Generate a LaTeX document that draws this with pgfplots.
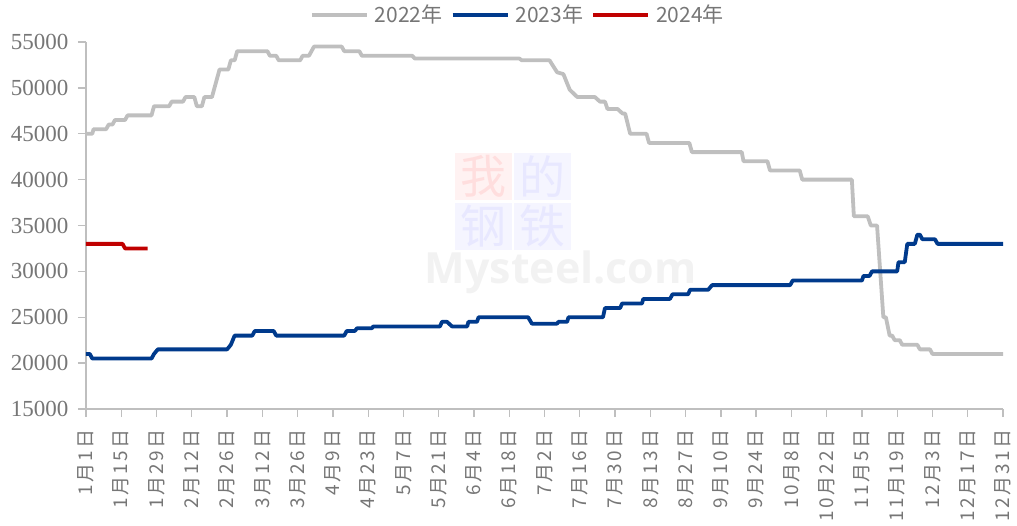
\documentclass[border=0pt]{standalone}
\usepackage{fontspec}
\usepackage{pgfplots}
\pgfplotsset{compat=1.18}
\setmainfont{Liberation Serif}
\newfontfamily\cjk{Noto Sans CJK SC}
\newfontfamily\cjkx[LetterSpace=12]{Noto Sans CJK SC}
\newfontfamily\wmfont{Open Sans}
\definecolor{g22}{RGB}{191,191,191}
\definecolor{b23}{RGB}{0,58,140}
\definecolor{r24}{RGB}{192,0,0}
\definecolor{axgray}{RGB}{191,191,191}
\definecolor{txtgray}{RGB}{118,118,118}
\begin{document}
\begin{tikzpicture}
\begin{axis}[
  scale only axis, width=917pt, height=367pt,
  xmin=0, xmax=364, ymin=15000, ymax=55000,
  ytick={15000,20000,...,55000},
  xtick={0,14,...,364},
  xticklabels={1月1日,1月15日,1月29日,2月12日,2月26日,3月12日,3月26日,4月9日,4月23日,5月7日,5月21日,6月4日,6月18日,7月2日,7月16日,7月30日,8月13日,8月27日,9月10日,9月24日,10月8日,10月22日,11月5日,11月19日,12月3日,12月17日,12月31日},
  axis x line*=bottom, axis y line*=left,
  axis line style={axgray, line width=1.3pt},
  tick style={axgray, line width=1.3pt},
  major tick length=8pt, tick align=outside,
  scaled y ticks=false,
  yticklabel style={/pgf/number format/assume math mode=true, /pgf/number format/1000 sep={}, font=\rmfamily\fontsize{23}{23}\selectfont, text=txtgray},
  xticklabel style={rotate=90, anchor=east, font=\cjkx\fontsize{19}{19}\selectfont, text=txtgray},
  yticklabel shift=6pt, xticklabel shift=9pt,
  legend style={draw=none, fill=none, at={(0.471,1.074)}, anchor=center, legend columns=3, font=\cjk\fontsize{21}{21}\selectfont, text=txtgray, /tikz/every odd column/.append style={column sep=4pt}, /tikz/every even column/.append style={column sep=6pt}},
  legend image code/.code={\draw[#1, line width=4pt] (0pt,0pt) -- (55pt,0pt);},
  clip=false,
]
% watermark
\node[fill=red!5, minimum width=57pt, minimum height=47pt, inner sep=0pt, text=red!13, font=\cjk\fontsize{46}{46}\selectfont] at (rel axis cs:0.4335,0.6335) {我};
\node[fill=blue!4, minimum width=57pt, minimum height=47pt, inner sep=0pt, text=blue!9, font=\cjk\fontsize{46}{46}\selectfont] at (rel axis cs:0.4983,0.6335) {的};
\node[fill=blue!4, minimum width=57pt, minimum height=47pt, inner sep=0pt, text=blue!9, font=\cjk\fontsize{46}{46}\selectfont] at (rel axis cs:0.4335,0.4980) {钢};
\node[fill=blue!4, minimum width=57pt, minimum height=47pt, inner sep=0pt, text=blue!9, font=\cjk\fontsize{46}{46}\selectfont] at (rel axis cs:0.4983,0.4980) {铁};
\node[text=black!5, font=\wmfont\bfseries\fontsize{43}{43}\selectfont] at (rel axis cs:0.5177,0.3720) {Mysteel.com};

\addplot[g22, line width=3.8pt, line join=round] coordinates {
(0,45000)(2.5,45000)(3,45500)(8,45500)(9,46000)(10.5,46000)(11.5,46500)(15.5,46500)(16.5,47000)(26,47000)(27,48000)(33,48000)(34,48500)(38.5,48500)(39.5,49000)(43,49000)(44,48000)(46,48000)(47,49000)(50,49000)(53,52000)(56.5,52000)(57.5,53000)(59,53000)(60,54000)(72,54000)(73,53500)(75.5,53500)(76.5,53000)(85,53000)(86,53500)(88.5,53500)(90.5,54500)(101.5,54500)(102.5,54000)(108.5,54000)(109.5,53500)(129.5,53500)(130.5,53200)(172,53200)(173,53000)(184,53000)(187,51700)(189.5,51500)(192,49800)(195,49000)(202,49000)(204,48500)(206,48500)(207,47700)(211,47700)(213,47200)(214,47200)(216,45000)(222.5,45000)(223.5,44000)(239.5,44000)(240.5,43000)(260.3,43000)(261,42000)(270.5,42000)(271.5,41000)(283.3,41000)(284.3,40000)(304,40000)(304.8,36000)(310.3,36000)(311.5,35000)(314,35000)(316.5,25000)(317.5,25000)(319,23000)(320,23000)(321,22500)(323,22500)(324,22000)(330,22000)(331,21500)(335,21500)(336,21000)(364,21000)
};
\addlegendentry{2022年}
\addplot[b23, line width=3.8pt, line join=round] coordinates {
(0,21000)(1.5,21000)(2.5,20500)(26,20500)(27,21000)(28.5,21500)(56,21500)(57.5,22000)(59,23000)(66,23000)(67,23500)(74.5,23500)(75.5,23000)(102.5,23000)(103.5,23500)(106.7,23500)(107.6,23800)(113.5,23800)(114,24000)(140.5,24000)(141.3,24500)(143.3,24500)(145.3,24000)(151.3,24000)(151.8,24500)(155.2,24500)(155.8,25000)(175.5,25000)(177,24300)(187,24300)(187.5,24500)(191,24500)(191.5,25000)(205.2,25000)(206,26000)(212,26000)(212.8,26500)(220.7,26500)(221.2,27000)(231.8,27000)(232.8,27500)(239,27500)(239.8,28000)(247,28000)(248.5,28500)(279.5,28500)(280.5,29000)(308,29000)(308.6,29500)(311,29500)(312,30000)(322,30000)(322.5,31000)(325,31000)(326,33000)(329,33000)(330,34000)(331,34000)(332,33500)(337,33500)(338,33000)(364,33000)
};
\addlegendentry{2023年}
\addplot[r24, line width=3.8pt, line join=round] coordinates {
(0,33000)(14.5,33000)(15.5,32500)(24.5,32500)
};
\addlegendentry{2024年}
\end{axis}
\pgfresetboundingbox
\path (-86pt,-116pt) rectangle (931pt,409pt);
\end{tikzpicture}
\end{document}
